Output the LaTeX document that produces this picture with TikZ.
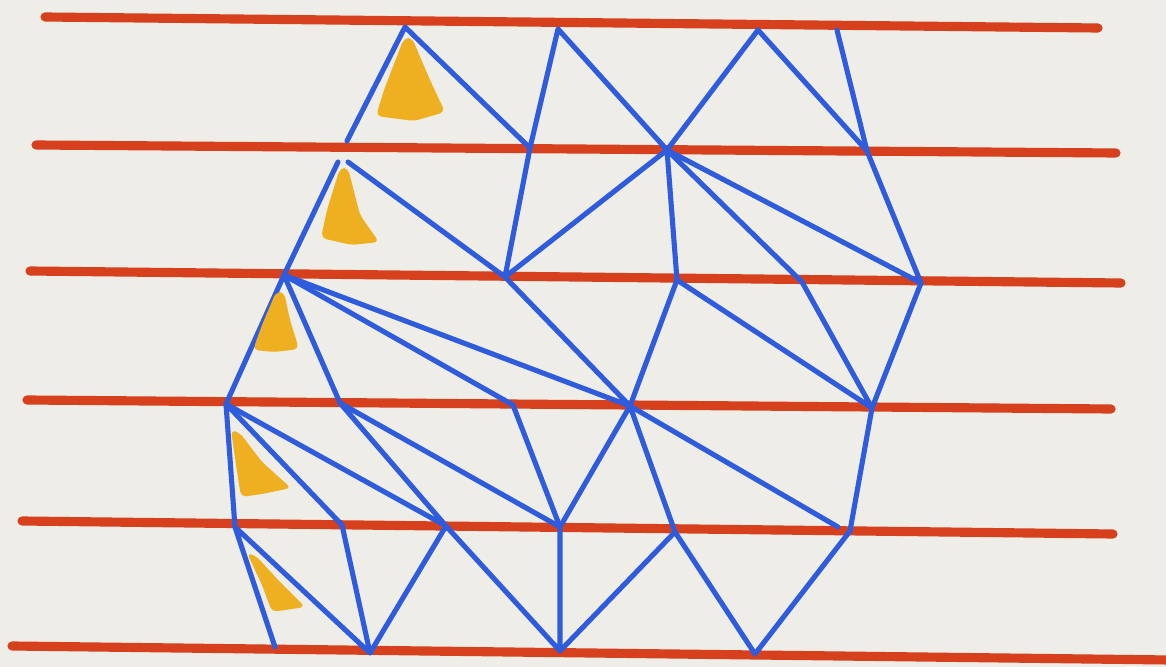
\documentclass[tikz,border=0pt]{standalone}
\usepackage{xcolor}
\usepackage{tikz}
\definecolor{paper}{HTML}{EEEDE8}
\definecolor{railred}{HTML}{D6401C}
\definecolor{penblue}{HTML}{2F5CDC}
\definecolor{marker}{HTML}{EEB020}
\begin{document}
\begin{tikzpicture}[x=0.01cm, y=-0.01cm,
    rail/.style={draw=railred, line width=2.6pt, line cap=round},
    edge/.style={draw=penblue, line width=1.45pt, line cap=round, line join=round},
    blob/.style={fill=marker, rounded corners=1.5pt}]
            \fill[paper] (0,0) rectangle (1166,667);
            \useasboundingbox (0,0) rectangle (1166,667);
            % horizontal lines
            \coordinate (r1l) at (45,17);  \coordinate (r1r) at (1098,28);
            \coordinate (r2l) at (36,145); \coordinate (r2r) at (1116,153);
            \coordinate (r3l) at (30,271); \coordinate (r3r) at (1121,283);
            \coordinate (r4l) at (27,400); \coordinate (r4r) at (1111,409);
            \coordinate (r5l) at (22,521); \coordinate (r5r) at (1113,534);
            \coordinate (r6l) at (12,646); \coordinate (r6r) at (1170,660);
            \draw[rail] (r1l) -- (r1r);
            \draw[rail] (r2l) -- (r2r);
            \draw[rail] (r3l) -- (r3r);
            \draw[rail] (r4l) -- (r4r);
            \draw[rail] (r5l) -- (r5r);
            \draw[rail] (r6l) -- (r6r);
            % vertices
            \coordinate (a1) at (405,27);  \coordinate (b1) at (558,29);
            \coordinate (c1) at (758,30);  \coordinate (d1) at (837,30);
            \coordinate (a2) at (347,141); \coordinate (a2l) at (338,162);
            \coordinate (a2r) at (348,162); \coordinate (b2) at (530,148);
            \coordinate (c2) at (667,150); \coordinate (d2) at (867,151);
            \coordinate (a3) at (284,275); \coordinate (b3) at (505,277);
            \coordinate (c3) at (677,280); \coordinate (d3) at (802,282);
            \coordinate (e3) at (921,283);
            \coordinate (a4) at (226,404); \coordinate (b4) at (340,403);
            \coordinate (c4) at (513,405); \coordinate (d4) at (630,406);
            \coordinate (e4) at (872,408);
            \coordinate (a5) at (235,527); \coordinate (b5) at (342,525);
            \coordinate (c5) at (446,526); \coordinate (d5) at (560,527);
            \coordinate (e5) at (675,532); \coordinate (f5) at (850,531);
            \coordinate (f5l) at (838,527);
            \coordinate (a6) at (275,647); \coordinate (b6) at (370,653);
            \coordinate (c6) at (560,651); \coordinate (d6) at (755,654);
            % blue triangulation
            \draw[edge] (a2) -- (a1) -- (b2) -- (b1) -- (c2) -- (c1) -- (d2) -- (d1);
            \draw[edge] (a2l) -- (a3);
            \draw[edge] (a2r) -- (b3) -- (b2);
            \draw[edge] (b3) -- (c2) -- (c3);
            \draw[edge] (c2) -- (d3);
            \draw[edge] (c2) -- (e3) -- (d2);
            \draw[edge] (a4) -- (a3) -- (b4);
            \draw[edge] (a3) -- (c4);
            \draw[edge] (a3) -- (d4) -- (b3);
            \draw[edge] (d4) -- (c3) -- (e4) -- (d3);
            \draw[edge] (e3) -- (e4);
            \draw[edge] (a5) -- (a4) -- (b5);
            \draw[edge] (a4) -- (c5) -- (b4) -- (d5) -- (c4);
            \draw[edge] (d5) -- (d4) -- (e5);
            \draw[edge] (d4) -- (f5l);
            \draw[edge] (e4) -- (f5);
            \draw[edge] (a6) -- (a5) -- (b6) -- (b5);
            \draw[edge] (b6) -- (c5) -- (c6) -- (d5);
            \draw[edge] (c6) -- (e5) -- (d6) -- (f5);
            % yellow marks
            \fill[blob] (404,38) -- (412,38) -- (430,80) -- (445,112) -- (414,121) -- (376,116) -- (384,90) -- cycle;
            \fill[blob] (340,168) -- (348,168) -- (360,215) -- (379,242) -- (352,245) -- (321,238) -- (327,210) -- cycle;
            \fill[blob] (276,292) -- (284,292) -- (290,320) -- (299,349) -- (275,352) -- (253,350) -- (262,325) -- cycle;
            \fill[blob] (231,430) -- (240,433) -- (262,462) -- (291,488) -- (262,494) -- (241,497) -- (236,465) -- cycle;
            \fill[blob] (247,553) -- (256,556) -- (280,582) -- (305,607) -- (285,610) -- (272,612) -- (262,585) -- cycle;
          \end{tikzpicture}
\end{document}
